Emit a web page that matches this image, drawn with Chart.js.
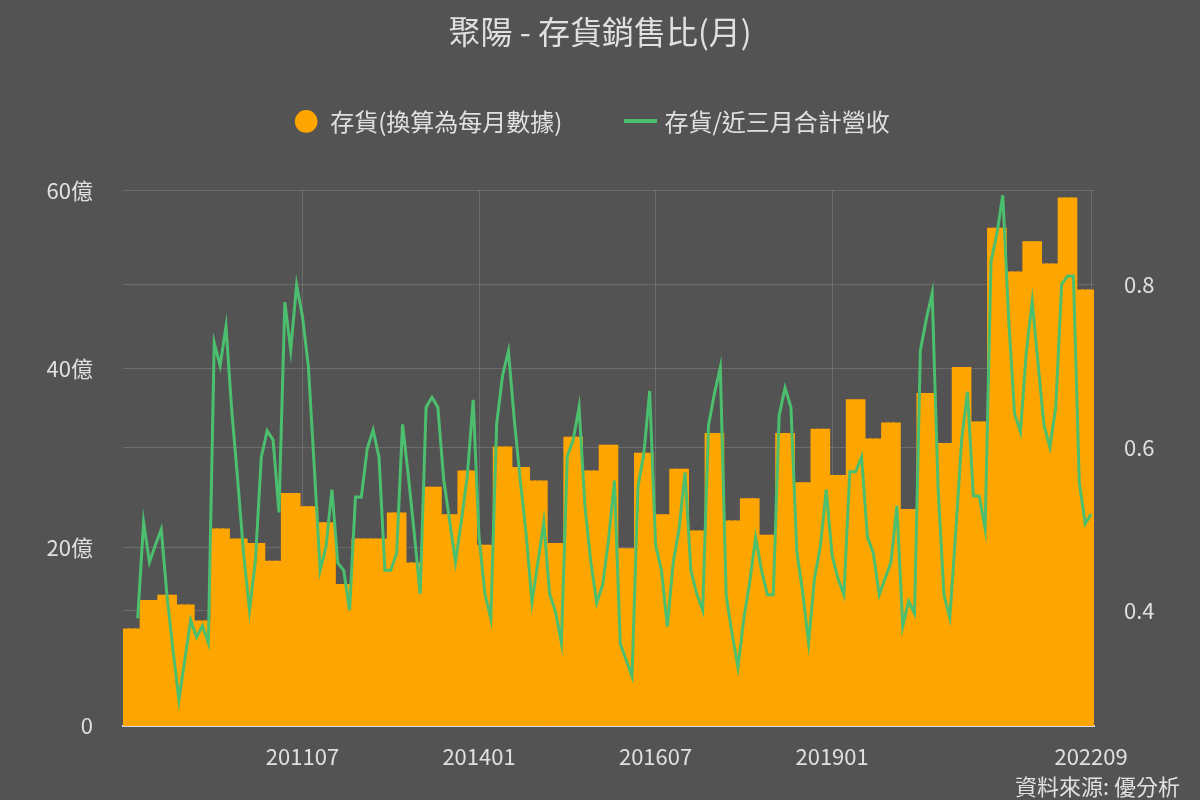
<!DOCTYPE html>
<html>
<head>
<meta charset="utf-8">
<title>聚陽 - 存貨銷售比(月)</title>
<script src="https://cdn.jsdelivr.net/npm/chart.js@4.4.0/dist/chart.umd.min.js"></script>
<style>
  html, body { margin: 0; padding: 0; background: #535353; }
  #wrap { width: 1200px; height: 800px; }
</style>
</head>
<body>
<div id="wrap"><canvas id="inventoryChart" width="1200" height="800"></canvas></div>
<script>
// months 200901 .. 202209
const months = [];
for (let y = 2009; y <= 2022; y++) {
    for (let m = 1; m <= 12; m++) {
        if (y === 2022 && m > 9) break;
        months.push(String(y) + String(m).padStart(2, '0'));
    }
}

// x labels actually shown
const shownMonths = ['201107', '201401', '201607', '201901', '202209'];

// inventory per quarter (億), each quarter covers 3 months
const inventoryQ = [
    10.8, 14.0, 14.6, 13.5,   // 2009
    11.7, 22.0, 20.9, 20.4,   // 2010
    18.4, 26.0, 24.5, 22.7,   // 2011
    15.8, 20.9, 20.9, 23.8,   // 2012
    18.2, 26.7, 23.6, 28.5,   // 2013
    20.2, 31.2, 28.9, 27.4,   // 2014
    20.4, 32.3, 28.5, 31.4,   // 2015
    19.8, 30.5, 23.6, 28.7,   // 2016
    21.8, 32.7, 22.9, 25.4,   // 2017
    21.3, 32.7, 27.2, 33.2,   // 2018
    28.0, 36.5, 32.1, 33.9,   // 2019
    24.2, 37.2, 31.6, 40.1,   // 2020
    34.0, 55.7, 50.8, 54.2,   // 2021
    51.7, 59.1, 48.8          // 2022
];

// inventory / last 3 months revenue
const ratio = [
    null, null, 0.390, 0.508, 0.459, 0.480, 0.499, 0.416, 0.351, 0.290, 0.339, 0.388,   // 2009
    0.367, 0.381, 0.360, 0.728, 0.700, 0.748, 0.643, 0.559, 0.469, 0.400, 0.461, 0.588, // 2010
    0.620, 0.609, 0.520, 0.778, 0.719, 0.799, 0.760, 0.699, 0.576, 0.449, 0.478, 0.548, // 2011
    0.458, 0.449, 0.400, 0.539, 0.539, 0.598, 0.621, 0.588, 0.449, 0.449, 0.470, 0.628, // 2012
    0.564, 0.494, 0.420, 0.649, 0.661, 0.649, 0.560, 0.510, 0.459, 0.510, 0.564, 0.658, // 2013
    0.490, 0.420, 0.390, 0.629, 0.688, 0.718, 0.633, 0.560, 0.494, 0.410, 0.459, 0.508, // 2014
    0.420, 0.398, 0.360, 0.589, 0.609, 0.649, 0.527, 0.459, 0.409, 0.431, 0.486, 0.559, // 2015
    0.359, 0.339, 0.319, 0.551, 0.592, 0.669, 0.480, 0.449, 0.380, 0.459, 0.500, 0.569, // 2016
    0.449, 0.420, 0.400, 0.627, 0.666, 0.698, 0.418, 0.371, 0.330, 0.390, 0.435, 0.489, // 2017
    0.449, 0.419, 0.419, 0.639, 0.673, 0.649, 0.472, 0.422, 0.360, 0.439, 0.478, 0.548, // 2018
    0.467, 0.439, 0.419, 0.570, 0.570, 0.588, 0.490, 0.470, 0.419, 0.439, 0.459, 0.528, // 2019
    0.380, 0.411, 0.396, 0.719, 0.757, 0.789, 0.551, 0.419, 0.391, 0.495, 0.608, 0.668, // 2020
    0.540, 0.540, 0.500, 0.828, 0.862, 0.909, 0.757, 0.641, 0.619, 0.717, 0.779, 0.702, // 2021
    0.627, 0.600, 0.649, 0.800, 0.810, 0.810, 0.557, 0.506, 0.518                       // 2022
];

const leftTicks = [0, 20, 40, 60];
const rightTicks = [0.4, 0.6, 0.8];

// quarterly value repeated for its months
const inventoryMonthly = inventoryQ.flatMap(v => [v, v, v]);

const textColor = '#e0e0e0';
const gridColor = 'rgba(255,255,255,0.15)';
const lineColor = '#4cbf6e';
const fontFamily = "'Noto Sans CJK TC', 'Noto Sans', sans-serif";

// wider dash for the line legend item
const lineMarker = document.createElement('canvas');
lineMarker.width = 33;
lineMarker.height = 4;
const lm = lineMarker.getContext('2d');
lm.fillStyle = lineColor;
lm.fillRect(0, 0, 33, 4);

// extra room under the legend, row nudged a bit left
const legendSpacer = {
    id: 'legendSpacer',
    beforeInit(chart) {
        const fit = chart.legend.fit;
        chart.legend.fit = function () {
            fit.call(this);
            this.height += 47;
            if (this.lineWidths && this.lineWidths.length) this.lineWidths[0] += 16;
        };
    }
};

// source note bottom right
const sourceNote = {
    id: 'sourceNote',
    afterDraw(chart) {
        const ctx = chart.ctx;
        ctx.save();
        ctx.font = '22px ' + fontFamily;
        ctx.fillStyle = textColor;
        ctx.textAlign = 'right';
        ctx.textBaseline = 'middle';
        ctx.fillText('資料來源: 優分析', 1180, 787);
        ctx.restore();
    }
};

const ctx = document.getElementById('inventoryChart').getContext('2d');

new Chart(ctx, {
    type: 'bar',
    data: {
        labels: months,
        datasets: [
            {
                type: 'bar',
                label: '存貨(換算為每月數據)',
                data: inventoryMonthly,
                backgroundColor: '#ffa500',
                borderWidth: 0,
                barPercentage: 1,
                categoryPercentage: 1,
                inflateAmount: 1,
                pointStyle: 'circle',
                yAxisID: 'y',
                order: 2
            },
            {
                type: 'line',
                label: '存貨/近三月合計營收',
                data: ratio,
                borderColor: lineColor,
                backgroundColor: lineColor,
                borderWidth: 3,
                pointRadius: 0,
                pointStyle: lineMarker,
                tension: 0,
                fill: false,
                yAxisID: 'y1',
                order: 1
            }
        ]
    },
    options: {
        responsive: false,
        animation: false,
        layout: { padding: 0 },
        plugins: {
            title: {
                display: true,
                text: '聚陽 - 存貨銷售比(月)',
                color: textColor,
                font: { family: fontFamily, size: 32, weight: 'normal' },
                padding: { top: 13, bottom: -8 }
            },
            legend: {
                labels: {
                    color: textColor,
                    font: { family: fontFamily, size: 24 },
                    usePointStyle: true,
                    boxWidth: 24,
                    boxHeight: 16,
                    padding: 66,
                    sort: (a, b) => a.datasetIndex - b.datasetIndex
                }
            },
            tooltip: { enabled: false }
        },
        scales: {
            x: {
                offset: true,
                grid: { color: gridColor, offset: false, drawTicks: false },
                border: { color: '#d0d8e8', width: 2 },
                ticks: {
                    autoSkip: false,
                    maxRotation: 0,
                    color: textColor,
                    padding: 17,
                    font: { family: fontFamily, size: 22 }
                },
                afterBuildTicks(axis) {
                    axis.ticks = axis.ticks.filter(t => shownMonths.includes(months[t.value]));
                },
                afterFit(axis) { axis.height = 74; }
            },
            y: {
                position: 'left',
                min: 0,
                max: 60,
                grid: { color: gridColor, drawTicks: false },
                border: { display: false },
                ticks: {
                    color: textColor,
                    padding: 30,
                    font: { family: fontFamily, size: 22 },
                    callback: v => (v === 0 ? '0' : v + '億')
                },
                afterBuildTicks(axis) {
                    axis.ticks = leftTicks.map(v => ({ value: v }));
                },
                afterFit(axis) { axis.width = 123; }
            },
            y1: {
                position: 'right',
                min: 0.258,
                max: 0.915,
                grid: { color: gridColor, drawTicks: false },
                border: { display: false },
                ticks: {
                    color: textColor,
                    padding: 30,
                    font: { family: fontFamily, size: 22 },
                    callback: v => v.toFixed(1)
                },
                afterBuildTicks(axis) {
                    axis.ticks = rightTicks.map(v => ({ value: v }));
                },
                afterFit(axis) { axis.width = 106; }
            }
        }
    },
    plugins: [legendSpacer, sourceNote]
});
</script>
</body>
</html>
